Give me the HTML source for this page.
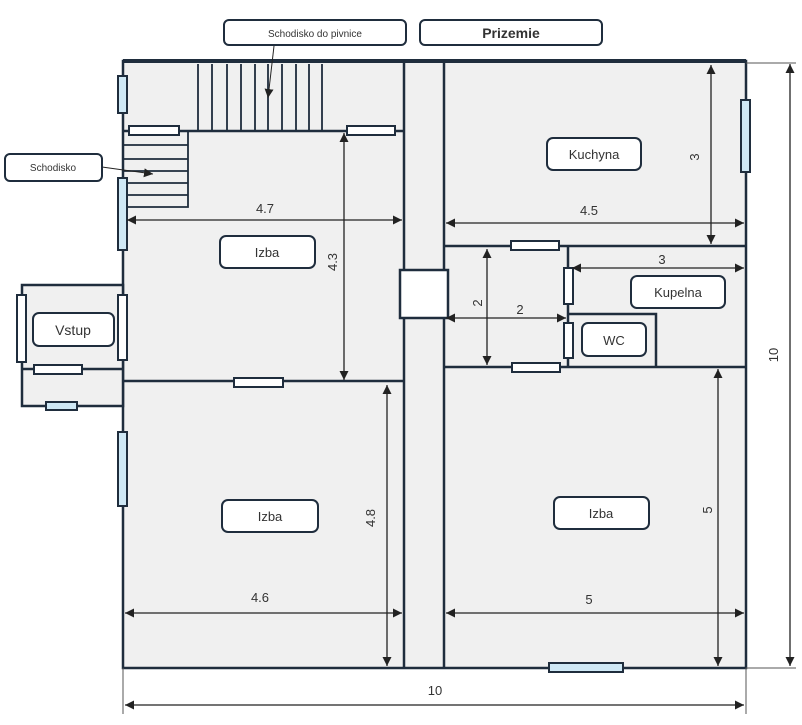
<!DOCTYPE html>
<html><head><meta charset="utf-8"><style>body{margin:0;background:#fff}svg{display:block}text{font-family:"Liberation Sans",sans-serif;fill:#333}</style></head><body>
<svg width="802" height="725" viewBox="0 0 802 725" xmlns="http://www.w3.org/2000/svg">
<defs><marker id="a" viewBox="0 0 10 10" refX="10" refY="5" markerWidth="9" markerHeight="9" orient="auto-start-reverse" markerUnits="userSpaceOnUse"><path d="M0,0L10,5L0,10z" fill="#222"/></marker></defs>
<g stroke="#1f2d3d" stroke-width="2.5" fill="#f0f0f0">
<rect x="123" y="61" width="623" height="607"/>
<rect x="22" y="285" width="101" height="121"/>
<line x1="22" y1="369" x2="123" y2="369"/>
<line x1="404" y1="61" x2="404" y2="668"/>
<line x1="444" y1="61" x2="444" y2="668"/>
<line x1="123" y1="381" x2="404" y2="381"/>
<line x1="123" y1="131" x2="404" y2="131"/>
<line x1="444" y1="246" x2="746" y2="246"/>
<line x1="444" y1="367" x2="746" y2="367"/>
<line x1="568" y1="246" x2="568" y2="367"/>
<polyline points="568,314 656,314 656,367" fill="none"/>
</g>
<line x1="123" y1="61" x2="746" y2="61" stroke="#1f2d3d" stroke-width="4"/>
<g stroke="#1f2d3d" stroke-width="1.8">
<line x1="198" y1="64" x2="198" y2="130"/><line x1="212" y1="64" x2="212" y2="130"/><line x1="227" y1="64" x2="227" y2="130"/><line x1="241" y1="64" x2="241" y2="130"/><line x1="255" y1="64" x2="255" y2="130"/><line x1="268" y1="64" x2="268" y2="130"/><line x1="282" y1="64" x2="282" y2="130"/><line x1="296" y1="64" x2="296" y2="130"/><line x1="309" y1="64" x2="309" y2="130"/><line x1="322" y1="64" x2="322" y2="130"/>
<polyline points="123,207 188,207 188,131" fill="none"/>
<line x1="123" y1="145" x2="188" y2="145"/><line x1="123" y1="159" x2="188" y2="159"/><line x1="123" y1="171" x2="188" y2="171"/><line x1="123" y1="183" x2="188" y2="183"/><line x1="123" y1="195" x2="188" y2="195"/>
</g>
<rect x="400" y="270" width="48" height="48" fill="#fff" stroke="#1f2d3d" stroke-width="2.5"/>
<g stroke="#1f2d3d" stroke-width="2">
<rect x="118" y="76" width="9" height="37" fill="#cfe8f5"/>
<rect x="118" y="178" width="9" height="72" fill="#cfe8f5"/>
<rect x="118" y="295" width="9" height="65" fill="#fff"/>
<rect x="118" y="432" width="9" height="74" fill="#cfe8f5"/>
<rect x="741" y="100" width="9" height="72" fill="#cfe8f5"/>
<rect x="17" y="295" width="9" height="67" fill="#fff"/>
<rect x="129" y="126" width="50" height="9" fill="#fff"/>
<rect x="347" y="126" width="48" height="9" fill="#fff"/>
<rect x="234" y="378" width="49" height="9" fill="#fff"/>
<rect x="511" y="241" width="48" height="9" fill="#fff"/>
<rect x="512" y="363" width="48" height="9" fill="#fff"/>
<rect x="549" y="663" width="74" height="9" fill="#cfe8f5"/>
<rect x="34" y="365" width="48" height="9" fill="#fff"/>
<rect x="46" y="402" width="31" height="8" fill="#cfe8f5"/>
<rect x="564" y="268" width="9" height="36" fill="#fff"/>
<rect x="564" y="323" width="9" height="35" fill="#fff"/>
</g>
<g stroke="#222" stroke-width="1.3" marker-start="url(#a)" marker-end="url(#a)">
<line x1="127" y1="220" x2="402" y2="220"/>
<line x1="344" y1="133" x2="344" y2="380"/>
<line x1="446" y1="223" x2="744" y2="223"/>
<line x1="711" y1="65" x2="711" y2="244"/>
<line x1="572" y1="268" x2="744" y2="268"/>
<line x1="487" y1="249" x2="487" y2="365"/>
<line x1="446" y1="318" x2="566" y2="318"/>
<line x1="125" y1="613" x2="402" y2="613"/>
<line x1="387" y1="385" x2="387" y2="666"/>
<line x1="446" y1="613" x2="744" y2="613"/>
<line x1="718" y1="369" x2="718" y2="666"/>
<line x1="790" y1="64" x2="790" y2="666"/>
<line x1="125" y1="705" x2="744" y2="705"/>
</g>
<g stroke="#555" stroke-width="1">
<line x1="746" y1="63" x2="796" y2="63"/><line x1="746" y1="668" x2="796" y2="668"/>
<line x1="123" y1="668" x2="123" y2="714"/><line x1="746" y1="668" x2="746" y2="714"/>
</g>
<g stroke="#222" stroke-width="1" marker-end="url(#a)">
<line x1="274" y1="46" x2="268" y2="98"/>
<line x1="102" y1="167" x2="153" y2="174"/>
</g>
<g font-size="13" text-anchor="middle">
<text x="265" y="213">4.7</text><text x="589" y="215">4.5</text><text x="662" y="264">3</text><text x="520" y="314">2</text><text x="260" y="602">4.6</text><text x="589" y="604">5</text><text x="435" y="695">10</text>
<text transform="translate(337,262) rotate(-90)">4.3</text>
<text transform="translate(699,157) rotate(-90)">3</text>
<text transform="translate(482,303) rotate(-90)">2</text>
<text transform="translate(375,518) rotate(-90)">4.8</text>
<text transform="translate(712,510) rotate(-90)">5</text>
<text transform="translate(778,355) rotate(-90)">10</text>
</g>
<g fill="#fff" stroke="#1f2d3d" stroke-width="2">
<rect x="224" y="20" width="182" height="25" rx="5"/>
<rect x="420" y="20" width="182" height="25" rx="5"/>
<rect x="5" y="154" width="97" height="27" rx="5"/>
<rect x="220" y="236" width="95" height="32" rx="6"/>
<rect x="222" y="500" width="96" height="32" rx="6"/>
<rect x="554" y="497" width="95" height="32" rx="6"/>
<rect x="547" y="138" width="94" height="32" rx="6"/>
<rect x="631" y="276" width="94" height="32" rx="6"/>
<rect x="582" y="323" width="64" height="33" rx="6"/>
<rect x="33" y="313" width="81" height="33" rx="6"/>
</g>
<g text-anchor="middle" font-size="13">
<text x="315" y="37" font-size="10">Schodisko do pivnice</text>
<text x="511" y="38" font-size="14" font-weight="bold">Prizemie</text>
<text x="53" y="171" font-size="10">Schodisko</text>
<text x="267" y="257">Izba</text><text x="270" y="521">Izba</text><text x="601" y="518">Izba</text>
<text x="594" y="159">Kuchyna</text><text x="678" y="297">Kupelna</text><text x="614" y="345">WC</text>
<text x="73" y="335" font-size="14">Vstup</text>
</g>
</svg>
</body></html>
